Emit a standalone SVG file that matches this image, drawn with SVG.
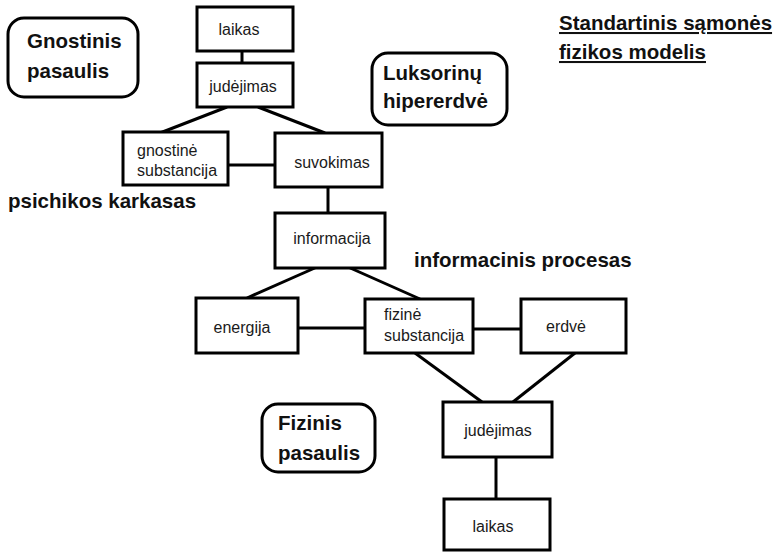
<svg xmlns="http://www.w3.org/2000/svg" width="782" height="553" viewBox="0 0 782 553">
<style>
.box{fill:#fff;stroke:#000;stroke-width:3}
.rbox{fill:#fff;stroke:#000;stroke-width:3}
.t{font-family:"Liberation Sans",Arial,sans-serif;font-size:16px;fill:#1a1a1a;text-anchor:middle}
.ts{font-family:"Liberation Sans",Arial,sans-serif;font-size:16px;fill:#1a1a1a}
.b{font-family:"Liberation Sans",Arial,sans-serif;font-size:20.5px;font-weight:bold;fill:#111}
.u{text-decoration:underline}
#connectors line{stroke:#000;stroke-width:3}
</style>
<rect width="782" height="553" fill="#fff"/>
<g id="connectors">
<line x1="242" y1="51" x2="242" y2="63"/>
<line x1="227" y1="107" x2="160" y2="133"/>
<line x1="258" y1="107" x2="325" y2="133"/>
<line x1="228" y1="165" x2="275" y2="165"/>
<line x1="328" y1="187" x2="328" y2="213"/>
<line x1="317" y1="267" x2="247" y2="298"/>
<line x1="348" y1="267" x2="420" y2="299"/>
<line x1="298" y1="328" x2="365" y2="328"/>
<line x1="473" y1="329" x2="521" y2="329"/>
<line x1="415" y1="353" x2="482" y2="402"/>
<line x1="575" y1="353" x2="513" y2="402"/>
<line x1="496" y1="457" x2="496" y2="499"/>
</g>
<g id="n-laikas-top"><rect class="box" x="197" y="7" width="96" height="44"/><text class="t" x="239" y="35">laikas</text></g>
<g id="n-judejimas-top"><rect class="box" x="197" y="63" width="96" height="44"/><text class="t" x="243" y="92">judėjimas</text></g>
<g id="n-gnostine"><rect class="box" x="123" y="132" width="105" height="53"/><text class="ts" x="137" y="156">gnostinė</text><text class="ts" x="137" y="176">substancija</text></g>
<g id="n-suvokimas"><rect class="box" x="275" y="133" width="107" height="54"/><text class="t" x="332" y="168">suvokimas</text></g>
<g id="n-informacija"><rect class="box" x="275" y="213" width="110" height="55"/><text class="t" x="332" y="244">informacija</text></g>
<g id="n-energija"><rect class="box" x="196" y="298" width="102" height="55"/><text class="t" x="242" y="333">energija</text></g>
<g id="n-fizine"><rect class="box" x="365" y="299" width="108" height="54"/><text class="ts" x="384" y="320">fizinė</text><text class="ts" x="384" y="341">substancija</text></g>
<g id="n-erdve"><rect class="box" x="521" y="299" width="105" height="54"/><text class="t" x="566" y="332">erdvė</text></g>
<g id="n-judejimas-bottom"><rect class="box" x="443" y="402" width="109" height="55"/><text class="t" x="498" y="436">judėjimas</text></g>
<g id="n-laikas-bottom"><rect class="box" x="444" y="499" width="106" height="51"/><text class="t" x="493" y="532">laikas</text></g>
<g id="n-gnostinis-pasaulis"><rect class="rbox" x="8" y="18" width="130" height="79" rx="16"/><text class="b" x="27" y="48">Gnostinis</text><text class="b" x="27" y="78">pasaulis</text></g>
<g id="n-luksoriniu"><rect class="rbox" x="372" y="53" width="135" height="72" rx="16"/><text class="b" x="383" y="80">Luksorinų</text><text class="b" x="383" y="108">hipererdvė</text></g>
<g id="n-fizinis-pasaulis"><rect class="rbox" x="262" y="404" width="113" height="68" rx="16"/><text class="b" x="278" y="430">Fizinis</text><text class="b" x="278" y="460">pasaulis</text></g>
<g id="labels">
<text class="b u" x="559" y="30">Standartinis sąmonės</text>
<text class="b u" x="559" y="59">fizikos modelis</text>
<text class="b" x="8" y="208">psichikos karkasas</text>
<text class="b" x="414" y="267">informacinis procesas</text>
</g>
</svg>
